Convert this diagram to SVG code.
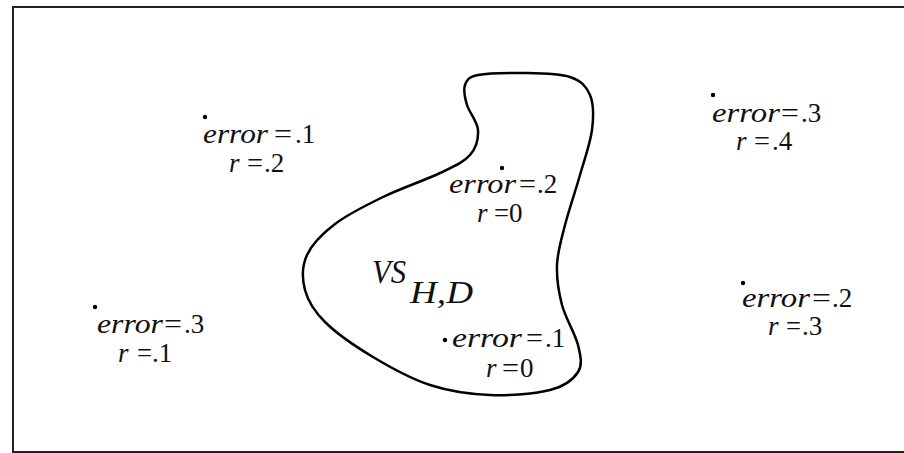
<svg xmlns="http://www.w3.org/2000/svg" width="904" height="453" viewBox="0 0 904 453" font-family="Liberation Serif, serif">
<style>
text{font-family:'Liberation Serif',serif;font-size:27px;fill:#111}
.it{font-style:italic}
.dot{fill:#000}
</style>
<rect x="0" y="0" width="904" height="453" fill="#fff"/>
<rect id="frame" x="13" y="7" width="893" height="445" fill="none" stroke="#222" stroke-width="2"/>
<g id="version-space">
<path d="M465,85 C463.2,90 464.8,97.5 467,105 C469.2,112.5 477.5,121.7 478,130 C478.5,138.3 476.3,147.8 470,155 C463.7,162.2 454.5,166 440,173 C425.5,180 400.5,188.5 383,197 C365.5,205.5 347.7,214.3 335,224 C322.3,233.7 312,244 307,255 C302,266 302,278.8 305,290 C308,301.2 313.7,310.8 325,322 C336.3,333.2 355.5,346.5 373,357 C390.5,367.5 410.5,378.7 430,385 C449.5,391.3 470,394.2 490,395 C510,395.8 535.3,393.8 550,390 C564.7,386.2 573.3,379.5 578,372 C582.7,364.5 580.7,356.2 578,345 C575.3,333.8 565.5,318.3 562,305 C558.5,291.7 556.5,278.3 557,265 C557.5,251.7 561.2,240 565,225 C568.8,210 575.5,190.8 580,175 C584.5,159.2 590.3,143.3 592,130 C593.7,116.7 593.7,103.8 590,95 C586.3,86.2 581.2,80.7 570,77 C558.8,73.3 538.3,73.3 523,73 C507.7,72.7 487.7,73 478,75 C468.3,77 466.8,80 465,85 Z" fill="none" stroke="#000" stroke-width="2.5"/>
<text class="it" x="372" y="283" style="font-size:33px" textLength="34" lengthAdjust="spacingAndGlyphs">VS</text>
<text class="it" x="410" y="303" style="font-size:31px" textLength="63" lengthAdjust="spacingAndGlyphs">H,D</text>
</g>
<g id="connectors"></g>
<g id="h1">
<circle class="dot" cx="205" cy="117" r="2.2"/>
<text class="it" x="203" y="143" textLength="65" lengthAdjust="spacingAndGlyphs">error</text>
<text x="274" y="143" textLength="18" lengthAdjust="spacingAndGlyphs">=</text><text x="295" y="143">.1</text>
<text class="it" x="229" y="172">r</text><text x="247" y="172" textLength="16" lengthAdjust="spacingAndGlyphs">=</text><text x="264" y="172">.2</text>
</g>
<g id="h2">
<circle class="dot" cx="502" cy="168" r="2.2"/>
<text class="it" x="449" y="193" textLength="67" lengthAdjust="spacingAndGlyphs">error</text>
<text x="519" y="193" textLength="17" lengthAdjust="spacingAndGlyphs">=</text><text x="537" y="193">.2</text>
<text class="it" x="477" y="222">r</text><text x="494" y="222" textLength="15" lengthAdjust="spacingAndGlyphs">=</text><text x="509" y="222">0</text>
</g>
<g id="h3">
<circle class="dot" cx="445" cy="340" r="2.2"/>
<text class="it" x="452" y="347" textLength="70" lengthAdjust="spacingAndGlyphs">error</text>
<text x="526" y="347" textLength="17" lengthAdjust="spacingAndGlyphs">=</text><text x="545" y="347">.1</text>
<text class="it" x="486" y="377">r</text><text x="502" y="377" textLength="17" lengthAdjust="spacingAndGlyphs">=</text><text x="520" y="377">0</text>
</g>
<g id="h4">
<circle class="dot" cx="95" cy="307" r="2.2"/>
<text class="it" x="97" y="333" textLength="66" lengthAdjust="spacingAndGlyphs">error</text>
<text x="164" y="333" textLength="18" lengthAdjust="spacingAndGlyphs">=</text><text x="184" y="333">.3</text>
<text class="it" x="118" y="362">r</text><text x="137" y="362" textLength="15" lengthAdjust="spacingAndGlyphs">=</text><text x="152" y="362">.1</text>
</g>
<g id="h5">
<circle class="dot" cx="713" cy="95" r="2.2"/>
<text class="it" x="712" y="122" textLength="68" lengthAdjust="spacingAndGlyphs">error</text>
<text x="781" y="122" textLength="18" lengthAdjust="spacingAndGlyphs">=</text><text x="801" y="122">.3</text>
<text class="it" x="736" y="150">r</text><text x="754" y="150" textLength="16" lengthAdjust="spacingAndGlyphs">=</text><text x="772" y="150">.4</text>
</g>
<g id="h6">
<circle class="dot" cx="743" cy="283" r="2.2"/>
<text class="it" x="742" y="307" textLength="68" lengthAdjust="spacingAndGlyphs">error</text>
<text x="812" y="307" textLength="19" lengthAdjust="spacingAndGlyphs">=</text><text x="832" y="307">.2</text>
<text class="it" x="768" y="335">r</text><text x="786" y="335" textLength="15" lengthAdjust="spacingAndGlyphs">=</text><text x="802" y="335">.3</text>
</g>
</svg>
